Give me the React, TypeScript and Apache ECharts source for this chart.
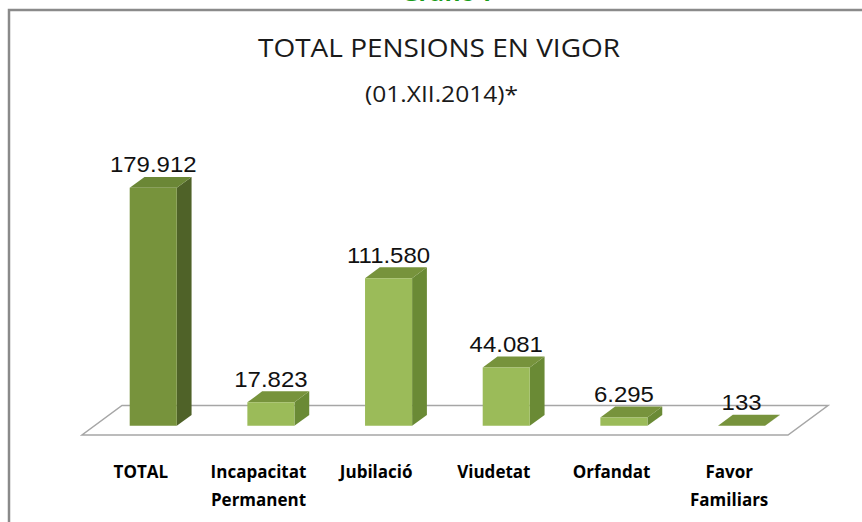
import React, { useEffect, useRef } from "react";
import * as echarts from "echarts";

const CATEGORIES = ["TOTAL", "Incapacitat\nPermanent", "Jubilació", "Viudetat", "Orfandat", "Favor\nFamiliars"];
const VALUES = [179912, 17823, 111580, 44081, 6295, 133];
const IS_TOTAL = [true, false, false, false, false, false];
const TITLE = "TOTAL PENSIONS EN VIGOR";
const SUBTITLE = "(01.XII.2014)*";
const HEADER = "Gràfic 1";

// projection of the 3D floor depth (px)
const DX = 40;
const DY = -29.5;
const F_FRONT = 0.31;
const F_BACK = 0.68;

const fmt = (v: number) => String(v).replace(/\B(?=(\d{3})+(?!\d))/g, ".");

export default function App() {
  const ref = useRef<HTMLDivElement>(null);
  useEffect(() => {
    document.body.style.margin = "0";
    const chart = echarts.init(ref.current!, null, { renderer: "svg" });
    const option: any = {
      animation: false,
      backgroundColor: "#ffffff",
      grid: { left: 82, right: 74, top: 170.4, bottom: 87 },
      xAxis: {
        type: "category",
        data: CATEGORIES,
        axisLine: { show: false },
        axisTick: { show: false },
        axisLabel: {
          interval: 0,
          margin: 22,
          color: "#000",
          fontFamily: "Open Sans",
          fontWeight: "bold",
          fontSize: 17,
          lineHeight: 28,
        },
      },
      yAxis: { type: "value", min: 0, max: 200000, show: false, splitLine: { show: false } },
      graphic: [
        {
          type: "rect",
          shape: { x: 9, y: 10, width: 1000, height: 700 },
          style: { fill: "none", stroke: "#8a8a8a", lineWidth: 2.5 },
          z: 0,
        },
        {
          type: "text",
          x: 447,
          y: -9,
          style: { text: HEADER, fill: "#1a9c1a", font: "bold 24px 'Open Sans'", align: "center", verticalAlign: "middle" },
        },
        {
          type: "text",
          x: 439,
          y: 48,
          scaleX: 1.12,
          style: { text: TITLE, fill: "#1a1a1a", font: "25px 'Open Sans'", align: "center", verticalAlign: "middle" },
        },
        {
          type: "text",
          x: 441.5,
          y: 94,
          scaleX: 1.17,
          style: { text: SUBTITLE, fill: "#1a1a1a", font: "21px 'Open Sans'", align: "center", verticalAlign: "middle" },
        },
      ],
      series: [
        {
          type: "custom",
          z: 1,
          data: [[0, 0]],
          renderItem: (params: any) => {
            const cs = params.coordSys;
            const fy = cs.y + cs.height;
            return {
              type: "polygon",
              shape: {
                points: [
                  [cs.x, fy],
                  [cs.x + cs.width, fy],
                  [cs.x + cs.width + DX, fy + DY],
                  [cs.x + DX, fy + DY],
                ],
              },
              style: { fill: "#ffffff", stroke: "#a6a6a6", lineWidth: 1.5 },
            };
          },
        },
        {
          type: "custom",
          z: 2,
          data: VALUES.map((v, i) => [i, v]),
          encode: { x: 0, y: 1 },
          renderItem: (params: any, api: any) => {
            const idx = api.value(0);
            const val = api.value(1);
            const base = api.coord([idx, 0]);
            const top = api.coord([idx, val]);
            const band = api.size([1, 0])[0];
            const w = band * 0.4;
            const h = base[1] - top[1];
            const x0 = base[0] + F_FRONT * DX - w / 2;
            const y0 = base[1] + F_FRONT * DY;
            const ddx = (F_BACK - F_FRONT) * DX;
            const ddy = (F_BACK - F_FRONT) * DY;
            const total = IS_TOTAL[idx];
            const cFront = total ? "#77933c" : "#9bbb59";
            const cTop = total ? "#6b8736" : "#77933c";
            const cSide = total ? "#4f6228" : "#6a8a35";
            const yt = y0 - h;
            return {
              type: "group",
              children: [
                {
                  type: "polygon",
                  shape: { points: [[x0 + w, y0], [x0 + w, yt], [x0 + w + ddx, yt + ddy], [x0 + w + ddx, y0 + ddy]] },
                  style: { fill: cSide },
                },
                {
                  type: "polygon",
                  shape: { points: [[x0, yt], [x0 + w, yt], [x0 + w + ddx, yt + ddy], [x0 + ddx, yt + ddy]] },
                  style: { fill: cTop },
                },
                {
                  type: "rect",
                  shape: { x: x0, y: yt, width: w, height: h },
                  style: { fill: cFront },
                },
                {
                  type: "text",
                  x: x0 + w / 2,
                  y: yt - 23,
                  scaleX: 1.09,
                  style: {
                    text: fmt(val),
                    fill: "#111",
                    font: "22px 'Liberation Sans'",
                    align: "center",
                    verticalAlign: "middle",
                  },
                },
              ],
            };
          },
        },
      ],
    };
    chart.setOption(option);
    return () => chart.dispose();
  }, []);
  return <div ref={ref} style={{ position: "fixed", left: 0, top: 0, width: 862, height: 522 }} />;
}
